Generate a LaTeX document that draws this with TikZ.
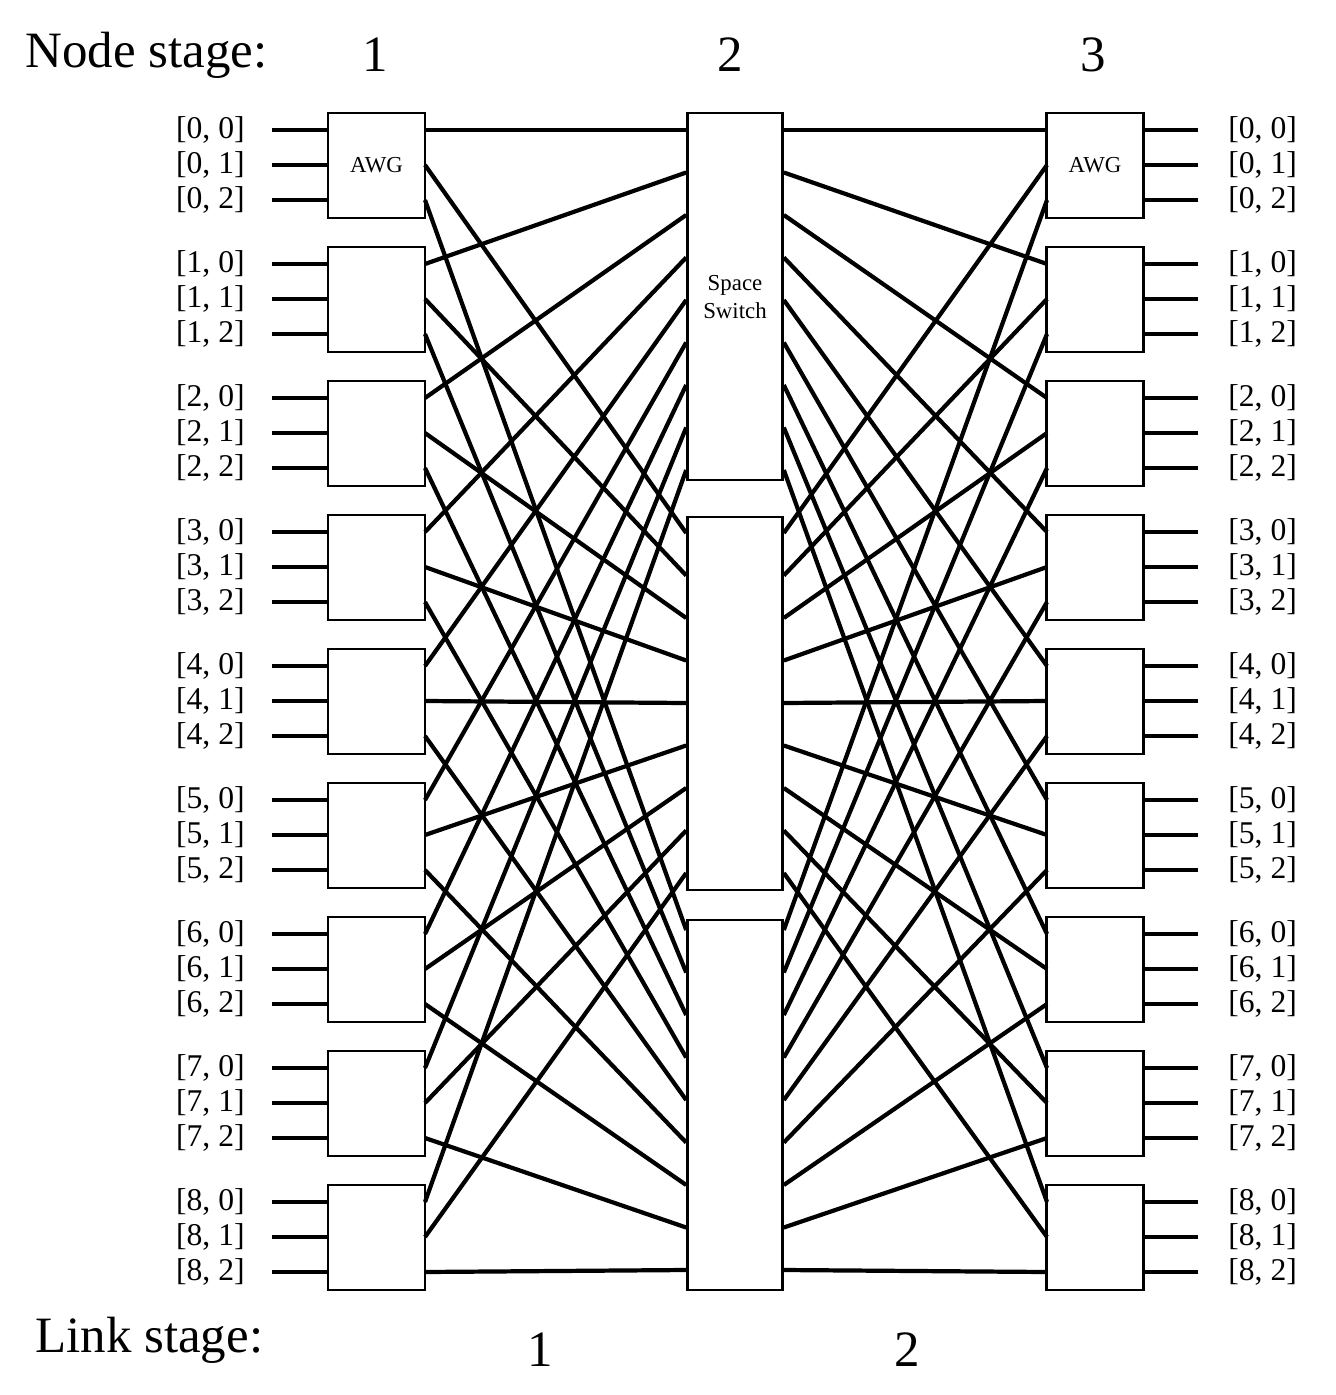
\documentclass[tikz,border=0pt]{standalone}
\usepackage{fontspec}
\setmainfont{Liberation Serif}
\usetikzlibrary{positioning}
\tikzset{awgbox/.style={draw=black, line width=1.5pt, fill=white, minimum width=1.94cm, minimum height=2.1cm, inner sep=0pt, font=\fontsize{13}{15}\selectfont},
  switchbox/.style={draw=black, line width=1.5pt, fill=white, minimum width=1.9cm, inner sep=0pt, align=center, font=\fontsize{13}{16}\selectfont},
  link/.style={line width=2.4pt},
  portlabel/.style={font=\fontsize{18}{18}\selectfont, inner sep=0pt},
  stagelabel/.style={font=\fontsize{29}{29}\selectfont, inner sep=0pt}}
\begin{document}
\begin{tikzpicture}[x=0.02cm, y=-0.02cm]
  \useasboundingbox (0,0) rectangle (1335,1395);

  % stage titles
  \node[stagelabel, anchor=west] (nodestage) at (25,55) {Node stage:};
  \node[stagelabel] (ns1) at (375,55) {1};
  \node[stagelabel] (ns2) at (730,55) {2};
  \node[stagelabel] (ns3) at (1093,55) {3};
  \node[stagelabel, anchor=west] (linkstage) at (35,1340) {Link stage:};
  \node[stagelabel] (ls1) at (540,1350) {1};
  \node[stagelabel] (ls2) at (907,1350) {2};

  % space switches
  \node[switchbox, minimum height=7.34cm] (M0) at (735,296.5) {};
  \node[switchbox, minimum height=7.46cm] (M1) at (735,703.5) {};
  \node[switchbox, minimum height=7.4cm] (M2) at (735,1105) {};
  \node[font=\fontsize{13}{16}\selectfont, align=center] (sslabel) at (735,297) {Space\\Switch};
  \foreach \j/\top in {0/130,1/533,2/930}
    \foreach \k in {0,...,8}
      \coordinate (M\j-\k) at (735,\top+42.5*\k);

  % AWG nodes and ports
  \foreach \i in {0,...,8} {
    \pgfmathsetmacro\ytop{113+134*\i}
    \node[awgbox] (L\i) at (376.5,\ytop+52.5) {};
    \node[awgbox] (R\i) at (1095,\ytop+52.5) {};
    \foreach \p/\dy in {0/17,1/52,2/87} {
      \coordinate (Lin\i-\p) at (272,\ytop+\dy);
      \coordinate (Lout\i-\p) at (425,\ytop+\dy);
      \coordinate (Rin\i-\p) at (1047,\ytop+\dy);
      \coordinate (Rout\i-\p) at (1198,\ytop+\dy);
      \draw[link] (Lin\i-\p) -- (Lin\i-\p -| L\i.west);
      \draw[link] (Rout\i-\p) -- (Rout\i-\p -| R\i.east);
      \node[portlabel, anchor=east] (ll\i-\p) at (245,\ytop+\dy) {[\i, \p]};
      \node[portlabel, anchor=west] (rl\i-\p) at (1228,\ytop+\dy) {[\i, \p]};
    }
  }
  \node[font=\fontsize{13}{15}\selectfont] (awgL) at (376.5,165) {AWG};
  \node[font=\fontsize{13}{15}\selectfont] (awgR) at (1095,165) {AWG};

  % links
  \foreach \i in {0,...,8}
    \foreach \p in {0,1,2} {
      \draw[link] (Lout\i-\p) -- (M\p-\i -| M\p.west);
      \draw[link] (M\p-\i -| M\p.east) -- (Rin\i-\p);
    }
\end{tikzpicture}
\end{document}
